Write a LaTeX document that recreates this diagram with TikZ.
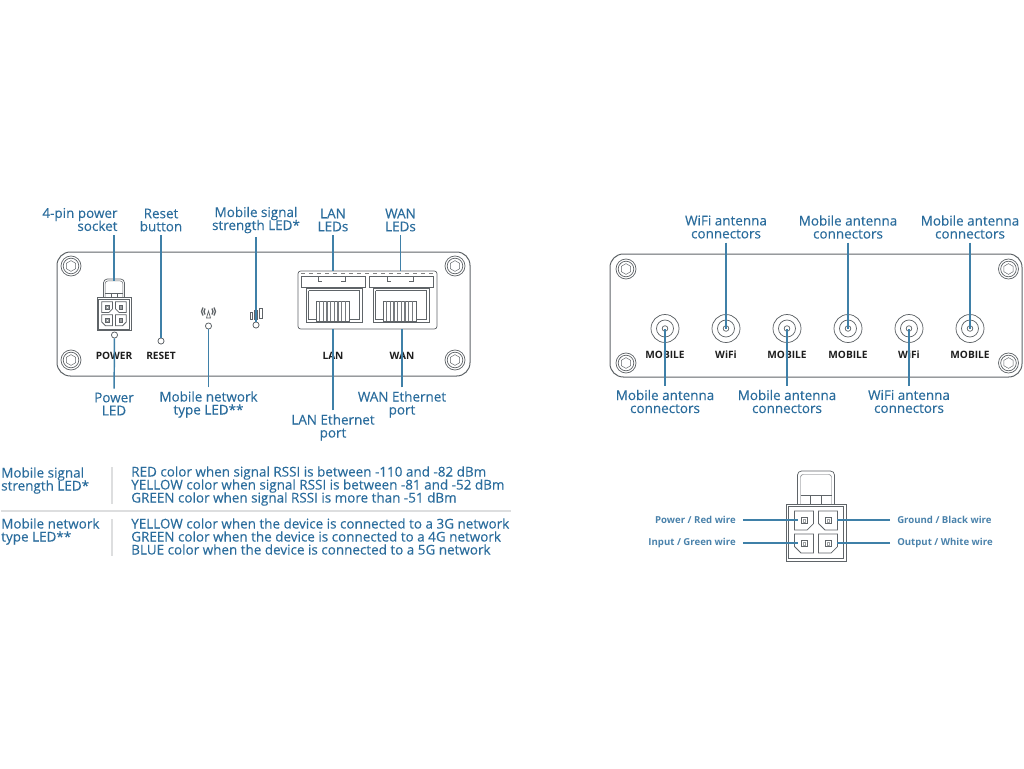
\documentclass[tikz,border=0pt]{standalone}
\usepackage{fontspec}
\setmainfont{Open Sans}
\newfontfamily\lblfont[FakeBold=0.25]{Open Sans}
\newcommand{\lblsize}{\lblfont\fontsize{10.1}{9.75}\selectfont\lineskiplimit=-20pt}
\usetikzlibrary{positioning}
\definecolor{lblblue}{HTML}{2A6C9C}
\definecolor{leadblue}{HTML}{3F80A8}
\definecolor{panelgray}{HTML}{5F6468}
\definecolor{rulegray}{HTML}{DDDEDF}
\definecolor{inkdark}{HTML}{1E1E1E}

\begin{document}
\begin{tikzpicture}[
  x=0.75pt, y=-0.75pt,
  lbl/.style={lblblue, font=\lblsize, align=center, inner sep=0pt, outer sep=3pt},
  tbl/.style={lblblue, font=\lblsize, align=left, anchor=north west, inner sep=0pt},
  wire/.style={lblblue!85, font=\fontsize{7.2}{8}\selectfont\bfseries, inner sep=0pt},
  plate/.style={inkdark, font=\fontsize{7.6}{8}\selectfont\bfseries, inner sep=0pt},
  lead/.style={leadblue, line width=1.1pt},
  thinlead/.style={leadblue, line width=0.8pt, shorten <=5.2pt},
  panel/.style={panelgray, line width=0.75pt, rounded corners=10pt},
  part/.style={panelgray, line width=0.55pt},
  fine/.style={panelgray, line width=0.35pt},
  led/.style={circle, draw=panelgray, line width=0.6pt, minimum size=4.6pt, inner sep=0pt},
  screw/.pic={
    \draw[part] (0,0) circle (10) (0,0) circle (7.8);
    \draw[fine] (30:5.4) -- (90:5.4) -- (150:5.4) -- (210:5.4) -- (270:5.4) -- (330:5.4) -- cycle;
  },
  fourpin/.pic={
    % body and latch
    \draw[part] (-30,-28.5) rectangle (30,28.5);
    \draw[fine] (-27.5,-26) rectangle (27.5,26);
    \draw[part, rounded corners=3pt] (-18.5,-28.5) -- (-18.5,-61.5) -- (18.5,-61.5) -- (18.5,-28.5);
    \draw[fine, rounded corners=2pt] (-15.5,-28.5) -- (-15.5,-58) -- (15.5,-58) -- (15.5,-28.5);
    \draw[fine] (-15.5,-37) -- (-5.5,-37) -- (-5.5,-28.5) (5.5,-28.5) -- (5.5,-37) -- (15.5,-37) (-5.5,-37) -- (5.5,-37);
    % four cells
    \draw[part] (-21.5,-21.5) -- (-2.5,-21.5) -- (-2.5,-9) -- (-9,-2.5) -- (-21.5,-2.5) -- cycle;
    \draw[part] (21.5,-21.5) -- (2.5,-21.5) -- (2.5,-9) -- (9,-2.5) -- (21.5,-2.5) -- cycle;
    \draw[part] (-2.5,1.5) -- (-21.5,1.5) -- (-21.5,14) -- (-15,20.5) -- (-2.5,20.5) -- cycle;
    \draw[part] (2.5,1.5) -- (21.5,1.5) -- (21.5,14) -- (15,20.5) -- (2.5,20.5) -- cycle;
    \foreach \cx/\cy in {-12/-12, 12/-12, -12/11, 12/11}{
      \draw[fine] (\cx-3,\cy-3) rectangle (\cx+3,\cy+3);
      \draw[panelgray!60, line width=0.3pt] (\cx-1.2,\cy-1.2) rectangle (\cx+1.2,\cy+1.2);
    }
  },
  rjport/.pic={
    \draw[part] (0,0) rectangle (56,34);
    \draw[fine] (2.5,2.5) -- (53.5,2.5) -- (53.5,31.5) -- (43,31.5) (2.5,2.5) -- (2.5,31.5) -- (10,31.5);
    \draw[part, fill=white] (10,13) rectangle (43,33);
    \foreach \i in {1,...,8}{ \draw[panelgray!85, line width=0.9pt] (10+\i*3.67,13) -- (10+\i*3.67,33); }
  },
]

\useasboundingbox (0,0) rectangle (1024,768);

% ---- front panel ----
\draw[panel] (57,252) rectangle (470,376);
\foreach \n/\x/\y in {a/71/266, b/71/360, c/455/266, d/455/360}{ \pic (fsc\n) at (\x,\y) {screw}; }

\pic[scale=0.57] (pwrsock) at (114,314) {fourpin};
\coordinate (socktop) at (114,281);

\node[led] (ledpower) at (114.5,335) {};
\node[led] (ledreset) at (161,341) {};
\node[led] (lednet) at (208.5,326) {};
\node[led] (ledsig) at (256,325) {};
\node[plate] (mpower) at (114,356) {POWER};
\node[plate] (mreset) at (161,356) {RESET};
\node[plate] (mlan) at (333,356) {LAN};
\node[plate] (mwan) at (402,356) {WAN};

% ---- type and signal icons ----
\draw[panelgray, line width=1pt] (205,308.5) -- (204,311.5) -- (205,314.5) (212,308.5) -- (213,311.5) -- (212,314.5);
\draw[panelgray, line width=1pt] (203,307.5) -- (201.5,311.5) -- (203,315.5) (214,307.5) -- (215.5,311.5) -- (214,315.5);
\draw[part] (208.5,311) -- (206.5,318) -- (210.5,318) -- cycle;
\draw[fine] (250,312) rectangle (252.5,319) (254.5,310) rectangle (257,319) (259.5,308) rectangle (262,318);

% ---- LAN / WAN block ----
\draw[part, rounded corners=2pt] (298,271) rectangle (437,329);
\draw[fine, dashed, gray] (301,273.5) -- (434,273.5);
\foreach \n/\x/\a/\b in {lan/301/318/345, wan/369/387/413}{
  \draw[fine] (\x,276) rectangle ++(64,11);
  \draw[fine] (\a,276) -- (\a,281) -- (\a+4,281) (\b,276) -- (\b,281) -- (\b-4,281);
}
\pic (rjlan) at (306,288) {rjport};
\pic (rjwan) at (373,288) {rjport};
\coordinate (lanleds) at (333,271);
\coordinate (wanleds) at (400.5,271);
\coordinate (lanport) at (333,329);
\coordinate (wanport) at (402,329);

% ---- front labels ----
\node[lbl, align=right, anchor=north east] (lblsock) at (121.5,204) {4-pin power\\socket};
\node[lbl] (lblreset) at (161,220) {Reset\\button};
\node[lbl] (lblsig) at (256,220) {Mobile signal\\strength LED*};
\node[lbl] (lbllanled) at (333,220) {LAN\\LEDs};
\node[lbl] (lblwanled) at (400.5,220) {WAN\\LEDs};
\node[lbl] (lblpled) at (114,404) {Power\\LED};
\node[lbl] (lblnet) at (208.5,404.5) {Mobile network\\type LED**};
\node[lbl] (lbllaneth) at (333,427.5) {LAN Ethernet\\port};
\node[lbl] (lblwaneth) at (402,404.5) {WAN Ethernet\\port};

\draw[lead] (lblsock.south -| socktop) -- (socktop);
\draw[lead] (lblreset) -- (ledreset);
\draw[lead] (lblsig) -- (ledsig);
\draw[lead] (lbllanled) -- (lanleds);
\draw[lead] (lblwanled) -- (wanleds);
\draw[lead] (lblpled) -- (ledpower);
\draw[lead] (lblnet) -- (lednet);
\draw[lead] (lbllaneth) -- (lanport);
\draw[lead] (lblwaneth) -- (wanport);

% ---- antenna panel ----
\draw[panel] (610,254) rectangle (1022,377);
\foreach \n/\x/\y in {a/626/269, b/626/363, c/1008.5/269, d/1008.5/363}{ \pic (bsc\n) at (\x,\y) {screw}; }

\foreach \n/\x/\t in {a/665/MOBILE, b/726/WiFi, c/787/MOBILE, d/848/MOBILE, e/909/WiFi, f/970/MOBILE}{
  \coordinate (ant\n) at (\x,328.5);
  \draw[part] (ant\n) circle (14) (ant\n) circle (8.5) (ant\n) circle (2.8);
  \node[plate] (mant\n) at (\x,355) {\t};
}

\node[lbl] (lbla) at (665,401.5) {Mobile antenna\\connectors};
\node[lbl] (lblb) at (726,227) {WiFi antenna\\connectors};
\node[lbl] (lblc) at (787,401.5) {Mobile antenna\\connectors};
\node[lbl] (lbld) at (848,227) {Mobile antenna\\connectors};
\node[lbl] (lble) at (909,401.5) {WiFi antenna\\connectors};
\node[lbl] (lblf) at (970,227) {Mobile antenna\\connectors};
\foreach \n in {a,...,f}{ \draw[lead] (lbl\n) -- (ant\n); }

% ---- LED table ----
\node[tbl] (tsig) at (1,467) {Mobile signal\\strength LED*};
\node[tbl] (tnet) at (1,518) {Mobile network\\type LED**};
\node[tbl] (tsigtxt) at (131,466) {RED color when signal RSSI is between -110 and -82 dBm\\YELLOW color when signal RSSI is between -81 and -52 dBm\\GREEN color when signal RSSI is more than -51 dBm};
\node[tbl] (tnettxt) at (131,518) {YELLOW color when the device is connected to a 3G network\\GREEN color when the device is connected to a 4G network\\BLUE color when the device is connected to a 5G network};
\draw[rulegray, line width=0.9pt] (112,467) -- (112,504) (112,519) -- (112,556);
\draw[rulegray, line width=1pt] (1,511) -- (511,511);

% ---- wiring connector ----
\pic (bigsock) at (816,532.5) {fourpin};
\coordinate (pinpwr) at (798,520);
\coordinate (pingnd) at (837,520);
\coordinate (pininp) at (798,543);
\coordinate (pinout) at (837,543);
\node[wire, anchor=east] (wpwr) at (736,520) {Power / Red wire};
\node[wire, anchor=east] (winp) at (736,543) {Input / Green wire};
\node[wire, anchor=west] (wgnd) at (897,520) {Ground / Black wire};
\node[wire, anchor=west] (wout) at (897,543) {Output / White wire};
\draw[thinlead] (wpwr) -- (pinpwr);
\draw[thinlead] (winp) -- (pininp);
\draw[thinlead] (wgnd) -- (pingnd);
\draw[thinlead] (wout) -- (pinout);

\end{tikzpicture}
\end{document}
